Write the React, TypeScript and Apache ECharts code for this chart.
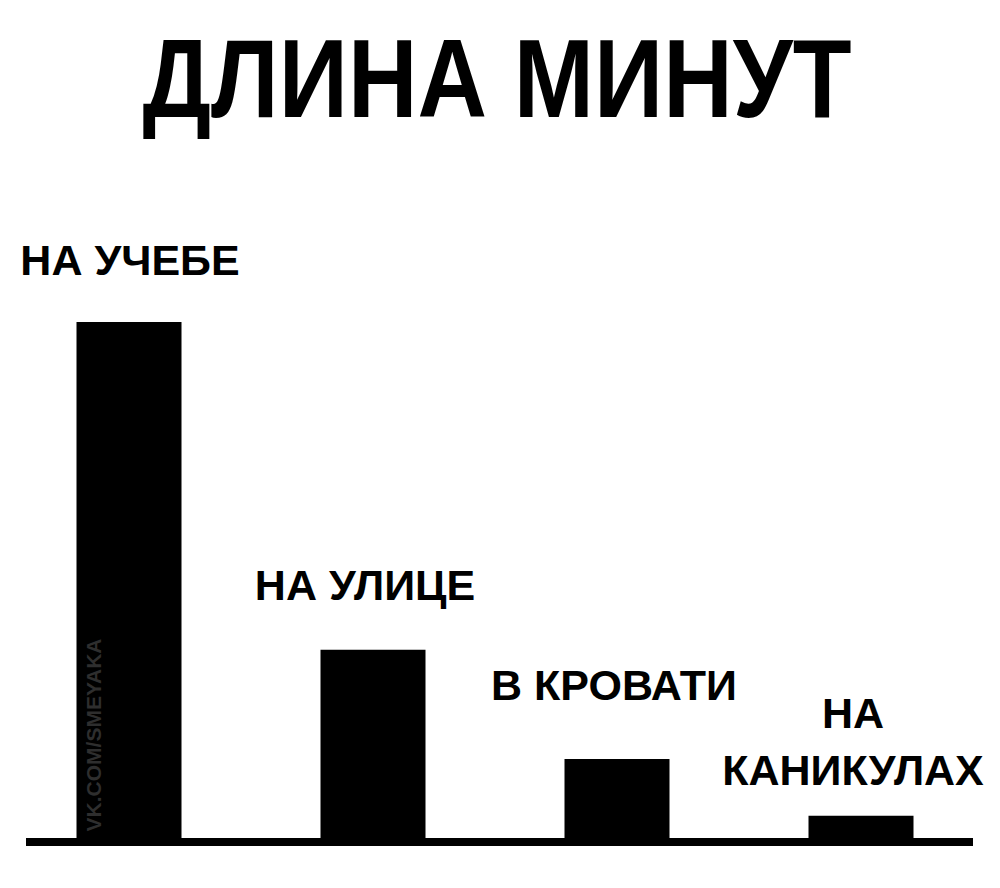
import React, { useEffect, useRef } from 'react';
import * as echarts from 'echarts';

// где минута длиннее всего
const categories = ['НА УЧЕБЕ', 'НА УЛИЦЕ', 'В КРОВАТИ', 'НА\nКАНИКУЛАХ'];
const minuteLength = [100, 36.5, 15.3, 4.3];

const titleText = 'ДЛИНА МИНУТ';
const watermark = 'VK.COM/SMEYAKA';

const FONT = '"Liberation Sans", Arial, sans-serif';

// подгонка подписей над столбцами
const labelDistance = [34, 36, 46, 17];
const labelShiftX = [1, -8, -3, -8];

const App: React.FC = () => {
  const chartRef = useRef<HTMLDivElement>(null);

  useEffect(() => {
    document.body.style.margin = '0';
    if (!chartRef.current) return;
    const chart = echarts.init(chartRef.current, undefined, { renderer: 'svg' });

    const option = {
      animation: false,
      backgroundColor: '#ffffff',
      grid: { left: 7, right: 17, top: 322, bottom: 50 },
      xAxis: {
        type: 'category',
        data: categories,
        axisLine: { show: false },
        axisTick: { show: false },
        axisLabel: { show: false }
      },
      yAxis: {
        type: 'value',
        min: 0,
        max: 100,
        show: false,
        splitLine: { show: false }
      },
      series: [
        {
          type: 'bar',
          barWidth: 105,
          itemStyle: { color: '#000' },
          data: minuteLength.map((v, i) => ({
            value: v,
            label: {
              distance: labelDistance[i],
              offset: [labelShiftX[i], 0]
            }
          })),
          label: {
            show: true,
            position: 'top',
            formatter: (p: any) => categories[p.dataIndex],
            fontFamily: FONT,
            fontWeight: 'bold',
            fontSize: 43,
            lineHeight: 57,
            align: 'center',
            color: '#000'
          }
        }
      ],
      graphic: [
        {
          type: 'text',
          x: 497,
          y: 78,
          scaleX: 0.86,
          style: {
            text: titleText,
            fill: '#000',
            font: 'bold 112px "Liberation Sans", Arial, sans-serif',
            align: 'center',
            verticalAlign: 'middle'
          }
        },
        {
          type: 'rect',
          shape: { x: 26, y: 838, width: 947, height: 8 },
          style: { fill: '#000' },
          z: 10
        },
        {
          type: 'text',
          x: 93,
          y: 735,
          rotation: Math.PI / 2,
          style: {
            text: watermark,
            fill: '#2e2e2e',
            font: 'bold 21px "Liberation Sans", Arial, sans-serif',
            align: 'center',
            verticalAlign: 'middle'
          },
          z: 10
        }
      ]
    };

    chart.setOption(option);
    return () => {
      chart.dispose();
    };
  }, []);

  return <div ref={chartRef} style={{ width: 1000, height: 888 }} />;
};

export default App;
